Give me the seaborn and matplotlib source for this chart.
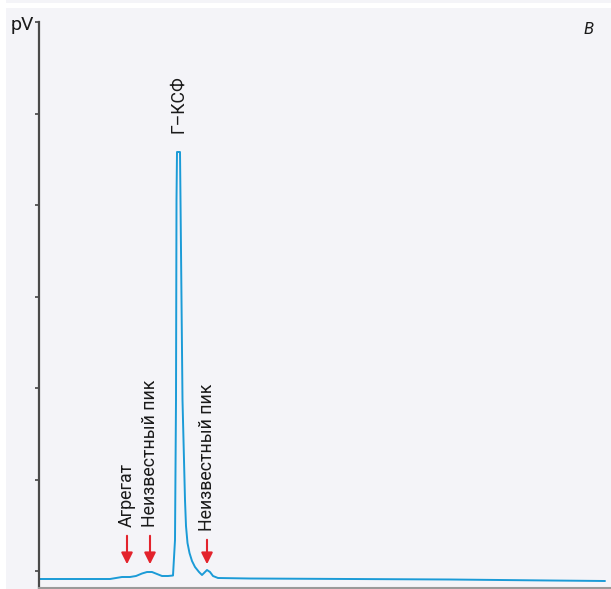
import numpy as np
import pandas as pd
import seaborn as sns
import matplotlib.pyplot as plt
from matplotlib.patches import Rectangle

# chromatogram trace (arbitrary time units, signal units)
time = [0, 71, 77, 83, 91, 97, 103, 108, 113, 118, 123, 129, 134, 136, 137, 137.5,
        138, 141, 141.5, 142.5, 143.5, 145, 146, 147, 148.5, 150.5, 153, 156, 160, 163, 165,
        168, 171, 174, 179, 211, 311, 411, 511, 566]
signal = [-8, -8, -7, -6, -6, -5, -2.5, -1, -1, -3, -5, -5, -4.5, 31, 171, 371,
          419, 419, 371, 271, 171, 111, 71, 45, 28, 18, 10, 4, -1, -4, -2,
          1, -1, -5, -7, -7.5, -8, -8.5, -9.5, -10]

# annotations
arrow_labels = ["Агрегат", "Неизвестный пик", "Неизвестный пик"]
arrow_x = [88, 111, 168]
main_label = "Г–КСФ"
main_x = 139
y_unit_label = "pV"
panel_label = "В"

df = pd.DataFrame({"time": time, "signal": signal})

sns.set_style("white")
plt.rcParams["font.family"] = ["Roboto", "DejaVu Sans"]

W, H = 611, 589
fig = plt.figure(figsize=(W / 100, H / 100), dpi=100)
fig.patch.set_facecolor("white")
bg = "#f4f4f8"
fig.patches.append(Rectangle((6 / W, 0), 1 - 6 / W, 1 - 8 / H, transform=fig.transFigure,
                             facecolor=bg, edgecolor="none", zorder=-10))
fig.patches.append(Rectangle((6 / W, 1 - 3 / H), 1 - 6 / W, 3 / H, transform=fig.transFigure,
                             facecolor=bg, edgecolor="none", zorder=-10))

ax = fig.add_axes([39 / W, 1 / H, 1 - 39 / W, (588 - 22) / H])
ax.set_facecolor("none")
sns.lineplot(data=df, x="time", y="signal", ax=ax, color="#1b9bd7", linewidth=1.4)

ax.set_xlim(0, 572)
ax.set_ylim(-17, 549)
ax.set_yticks(np.arange(0, 550, 91.5))
ax.set_yticklabels([])
ax.set_xticks([])
ax.set_xlabel("")
ax.set_ylabel("")
ax.tick_params(axis="y", direction="out", length=3, width=1.2, color="#444444", left=True)
for s in ["top", "right"]:
    ax.spines[s].set_visible(False)
ax.spines["left"].set_color("#4a4a4a")
ax.spines["left"].set_linewidth(1.6)
ax.spines["bottom"].set_color("#9a9a9a")
ax.spines["bottom"].set_linewidth(1.5)

red = "#e3232c"
for lab, x in zip(arrow_labels, arrow_x):
    top = 34 if x > 150 else 38
    ax.annotate("", xy=(x, 4), xytext=(x, top),
                arrowprops=dict(arrowstyle="-|>", color=red, lw=1.5, mutation_scale=17))
    ax.text(x, top + 6, lab, rotation=90, ha="center", va="bottom", fontsize=12.8,
            color="#1a1a1a")

ax.text(main_x, 438, main_label, rotation=90, ha="center", va="bottom", fontsize=12.8,
        color="#1a1a1a")

fig.text(22 / W, 1 - 25 / H, y_unit_label, ha="center", va="center", fontsize=14,
         color="#1a1a1a")
fig.text(589 / W, 1 - 30 / H, panel_label, ha="center", va="center", fontsize=12,
         style="italic", color="#1a1a1a")

fig.savefig("out.png", dpi=100, facecolor="white")
